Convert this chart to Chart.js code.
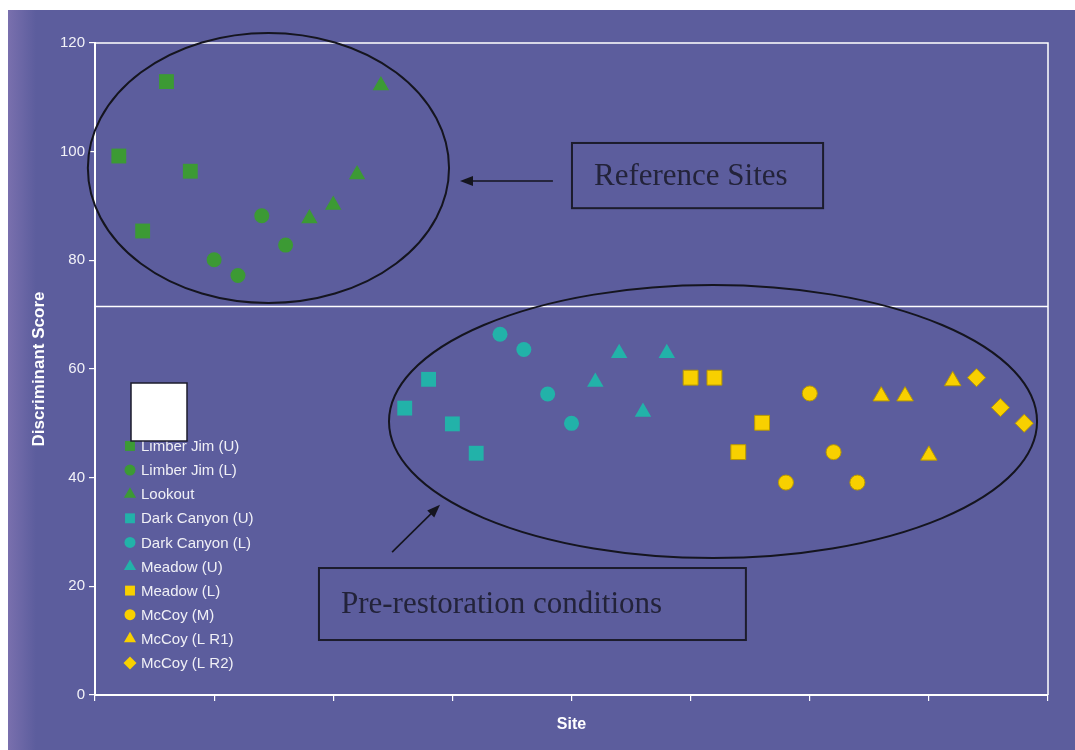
<!DOCTYPE html>
<html>
<head>
<meta charset="utf-8">
<script src="https://cdn.jsdelivr.net/npm/chart.js@4/dist/chart.umd.min.js"></script>
<style>
html,body{margin:0;padding:0;background:#ffffff;}
#wrap{width:1075px;height:750px;position:relative;}
canvas{display:block;}
</style>
</head>
<body>
<div id="wrap"><canvas id="c" width="1075" height="750"></canvas></div>
<script>
// ---------- DATA ----------
const seriesNames = ['Limber Jim (U)','Limber Jim (L)','Lookout','Dark Canyon (U)','Dark Canyon (L)','Meadow (U)','Meadow (L)','McCoy (M)','McCoy (L R1)','McCoy (L R2)'];

const limberJimUSite = [1,2,3,4];
const limberJimUScore = [99.2,85.4,112.9,96.4];
const limberJimLSite = [5,6,7,8];
const limberJimLScore = [80.1,77.2,88.2,82.8];
const lookoutSite = [9,10,11,12];
const lookoutScore = [87.7,90.2,95.8,112.2];
const darkCanyonUSite = [13,14,15,16];
const darkCanyonUScore = [52.8,58.1,49.9,44.5];
const darkCanyonLSite = [17,18,19,20];
const darkCanyonLScore = [66.4,63.6,55.4,50.0];
const meadowUSite = [21,22,23,24];
const meadowUScore = [57.6,62.9,52.1,62.9];
const meadowLSite = [25,26,27,28];
const meadowLScore = [58.4,58.4,44.7,50.1];
const mcCoyMSite = [29,30,31,32];
const mcCoyMScore = [39.1,55.5,44.7,39.1];
const mcCoyLR1Site = [33,34,35,36];
const mcCoyLR1Score = [55.0,55.0,44.1,57.8];
const mcCoyLR2Site = [37,38,39];
const mcCoyLR2Score = [58.4,52.9,50.0];

const yTicks = [0,20,40,60,80,100,120];
const xTickStep = 5;
const siteMin = 0, siteMax = 40;
const dividerScore = 71.5;

// annotation geometry in data units (site, score)
const refEllipse = {cx:7.28, cy:97.0, rx:7.58, ry:24.85};
const preEllipse = {cx:25.94, cy:50.33, rx:13.6, ry:25.12};
const refBox = {x0:20.02, x1:30.56, y0:101.6, y1:89.6, text:'Reference Sites'};
const preBox = {x0:9.40, x1:27.32, y0:23.37, y1:10.12, text:'Pre-restoration conditions'};
const refArrow = {x0:19.22, y0:94.6, x1:15.32, y1:94.6};
const preArrow = {x0:12.47, y0:26.3, x1:14.48, y1:35.0};

// ---------- STYLE ----------
const GREEN = '#3c9a34', CYAN = '#22b2a9', YELLOW = '#f8d000';
const BG = '#5c5d9d';
const SANS = "'Liberation Sans', Arial, Helvetica, sans-serif";
const SERIF = "'Liberation Serif', 'Times New Roman', serif";

function pts(xs, ys){ return xs.map((x,i)=>({x:x, y:ys[i]})); }
function ds(label, xs, ys, color, style, r){
  return {label:label, data:pts(xs,ys), backgroundColor:color, borderColor: color===YELLOW?'#b89800':color,
    borderWidth: color===YELLOW?1:0, pointStyle:style, pointRadius:r, pointHoverRadius:r, showLine:false};
}

const datasets = [
  ds(seriesNames[0], limberJimUSite, limberJimUScore, GREEN, 'rect', 10.5),
  ds(seriesNames[1], limberJimLSite, limberJimLScore, GREEN, 'circle', 7.5),
  ds(seriesNames[2], lookoutSite, lookoutScore, GREEN, 'triangle', 9.5),
  ds(seriesNames[3], darkCanyonUSite, darkCanyonUScore, CYAN, 'rect', 10.5),
  ds(seriesNames[4], darkCanyonLSite, darkCanyonLScore, CYAN, 'circle', 7.5),
  ds(seriesNames[5], meadowUSite, meadowUScore, CYAN, 'triangle', 9.5),
  ds(seriesNames[6], meadowLSite, meadowLScore, YELLOW, 'rect', 10.5),
  ds(seriesNames[7], mcCoyMSite, mcCoyMScore, YELLOW, 'circle', 7.5),
  ds(seriesNames[8], mcCoyLR1Site, mcCoyLR1Score, YELLOW, 'triangle', 9.5),
  ds(seriesNames[9], mcCoyLR2Site, mcCoyLR2Score, YELLOW, 'rectRot', 9)
];

function marker(ctx, style, x, y, r){
  ctx.beginPath();
  if (style === 'circle') ctx.arc(x, y, r, 0, Math.PI*2);
  else if (style === 'rect'){ const s = r*Math.SQRT1_2; ctx.rect(x-s, y-s, 2*s, 2*s); }
  else if (style === 'triangle'){
    for (let k=0;k<3;k++){ const a = -Math.PI/2 + k*2*Math.PI/3; const px = x + r*Math.cos(a), py = y + r*Math.sin(a); k?ctx.lineTo(px,py):ctx.moveTo(px,py); }
  } else if (style === 'rectRot'){ ctx.moveTo(x, y-r); ctx.lineTo(x+r, y); ctx.lineTo(x, y+r); ctx.lineTo(x-r, y); }
  ctx.closePath(); ctx.fill();
}

function arrow(ctx, x0, y0, x1, y1){
  const a = Math.atan2(y1-y0, x1-x0), L = 13, W = 5;
  ctx.beginPath(); ctx.moveTo(x0,y0); ctx.lineTo(x1 - L*0.6*Math.cos(a), y1 - L*0.6*Math.sin(a)); ctx.stroke();
  ctx.beginPath();
  ctx.moveTo(x1, y1);
  ctx.lineTo(x1 - L*Math.cos(a) + W*Math.sin(a), y1 - L*Math.sin(a) - W*Math.cos(a));
  ctx.lineTo(x1 - L*Math.cos(a) - W*Math.sin(a), y1 - L*Math.sin(a) + W*Math.cos(a));
  ctx.closePath(); ctx.fill();
}

const decor = {
  id:'decor',
  beforeDraw(chart){
    const ctx = chart.ctx, w = chart.width, h = chart.height;
    ctx.save();
    ctx.fillStyle = '#ffffff'; ctx.fillRect(0,0,w,h);
    ctx.fillStyle = BG; ctx.fillRect(8,10,w-8,h-10);
    const g = ctx.createLinearGradient(8,0,36,0);
    g.addColorStop(0,'rgba(150,130,190,0.5)'); g.addColorStop(1,'rgba(150,130,190,0)');
    ctx.fillStyle = g; ctx.fillRect(8,10,28,h-10);
    ctx.restore();
  },
  afterDatasetsDraw(chart){
    const ctx = chart.ctx, ca = chart.chartArea, xs = chart.scales.x, ys = chart.scales.y;
    const X = v => xs.getPixelForValue(v), Y = v => ys.getPixelForValue(v);
    ctx.save();
    // frame (top and right) and divider
    ctx.strokeStyle = '#ffffff'; ctx.lineWidth = 1.5;
    ctx.beginPath(); ctx.moveTo(ca.left, ca.top); ctx.lineTo(ca.right, ca.top); ctx.lineTo(ca.right, ca.bottom); ctx.stroke();
    ctx.beginPath(); ctx.moveTo(ca.left, Y(dividerScore)); ctx.lineTo(ca.right, Y(dividerScore)); ctx.stroke();
    // ellipses
    ctx.strokeStyle = '#15151f'; ctx.lineWidth = 2;
    [refEllipse, preEllipse].forEach(e=>{
      const cx = X(e.cx), cy = Y(e.cy), rx = X(e.cx+e.rx)-cx, ry = cy - Y(e.cy+e.ry);
      ctx.beginPath(); ctx.ellipse(cx, cy, rx, ry, 0, 0, Math.PI*2); ctx.stroke();
    });
    // boxes
    ctx.lineWidth = 2; ctx.strokeStyle = '#1c1c2c';
    ctx.fillStyle = '#23233a';
    [[refBox, 31, 22], [preBox, 31, 22]].forEach(([b, fs, pad])=>{
      const x0 = X(b.x0), x1 = X(b.x1), y0 = Y(b.y0), y1 = Y(b.y1);
      ctx.strokeRect(x0, y0, x1-x0, y1-y0);
      ctx.font = fs + 'px ' + SERIF; ctx.textBaseline = 'middle'; ctx.textAlign = 'left';
      ctx.fillText(b.text, x0 + pad, (y0+y1)/2 + 1);
    });
    // arrows
    ctx.strokeStyle = '#15151f'; ctx.fillStyle = '#15151f'; ctx.lineWidth = 1.6;
    [refArrow, preArrow].forEach(a=> arrow(ctx, X(a.x0), Y(a.y0), X(a.x1), Y(a.y1)));
    // legend
    const lx = ca.left + 35, ly = ca.top + 403, step = 24.1;
    ctx.font = '15px ' + SANS; ctx.textBaseline = 'middle'; ctx.textAlign = 'left';
    chart.data.datasets.forEach((d, i)=>{
      const y = ly + i*step;
      ctx.fillStyle = d.backgroundColor;
      const r = d.pointStyle==='circle'?5.5:(d.pointStyle==='rect'?7:(d.pointStyle==='triangle'?7:6.5));
      marker(ctx, d.pointStyle, lx, y, r);
      ctx.fillStyle = '#f0f0f6';
      ctx.fillText(d.label, lx + 11, y + 1);
    });
    // white square
    ctx.fillStyle = '#ffffff'; ctx.strokeStyle = '#1c1c2c'; ctx.lineWidth = 1.5;
    ctx.fillRect(ca.left+36, ca.top+340, 56, 58);
    ctx.strokeRect(ca.left+36, ca.top+340, 56, 58);
    ctx.restore();
  }
};

new Chart(document.getElementById('c'), {
  type:'scatter',
  data:{datasets:datasets},
  plugins:[decor],
  options:{
    responsive:false,
    animation:false,
    devicePixelRatio:1,
    layout:{padding:{top:43, right:27, left:0, bottom:0}},
    plugins:{legend:{display:false}, tooltip:{enabled:false}},
    scales:{
      x:{
        type:'linear', min:siteMin, max:siteMax,
        ticks:{stepSize:xTickStep, callback:()=>'', color:'#fff'},
        grid:{drawOnChartArea:false, drawTicks:true, tickLength:6, color:'#ffffff', lineWidth:1.2},
        border:{display:true, color:'#ffffff', width:2},
        title:{display:true, text:'Site', color:'#ffffff', font:{family:SANS, size:16, weight:'bold'}, padding:{top:0, bottom:16}},
        afterFit(s){ s.height = 55; }
      },
      y:{
        type:'linear', min:yTicks[0], max:yTicks[yTicks.length-1],
        afterBuildTicks(s){ s.ticks = yTicks.map(v=>({value:v})); },
        ticks:{color:'#f2f2f8', font:{family:SANS, size:15}, padding:4},
        grid:{drawOnChartArea:false, drawTicks:true, tickLength:6, color:'#ffffff', lineWidth:1.2},
        border:{display:true, color:'#ffffff', width:2},
        title:{display:true, text:'Discriminant Score', color:'#ffffff', font:{family:SANS, size:17, weight:'bold'}, padding:{top:29}},
        afterFit(s){ s.width = 95; }
      }
    }
  }
});
</script>
</body>
</html>
